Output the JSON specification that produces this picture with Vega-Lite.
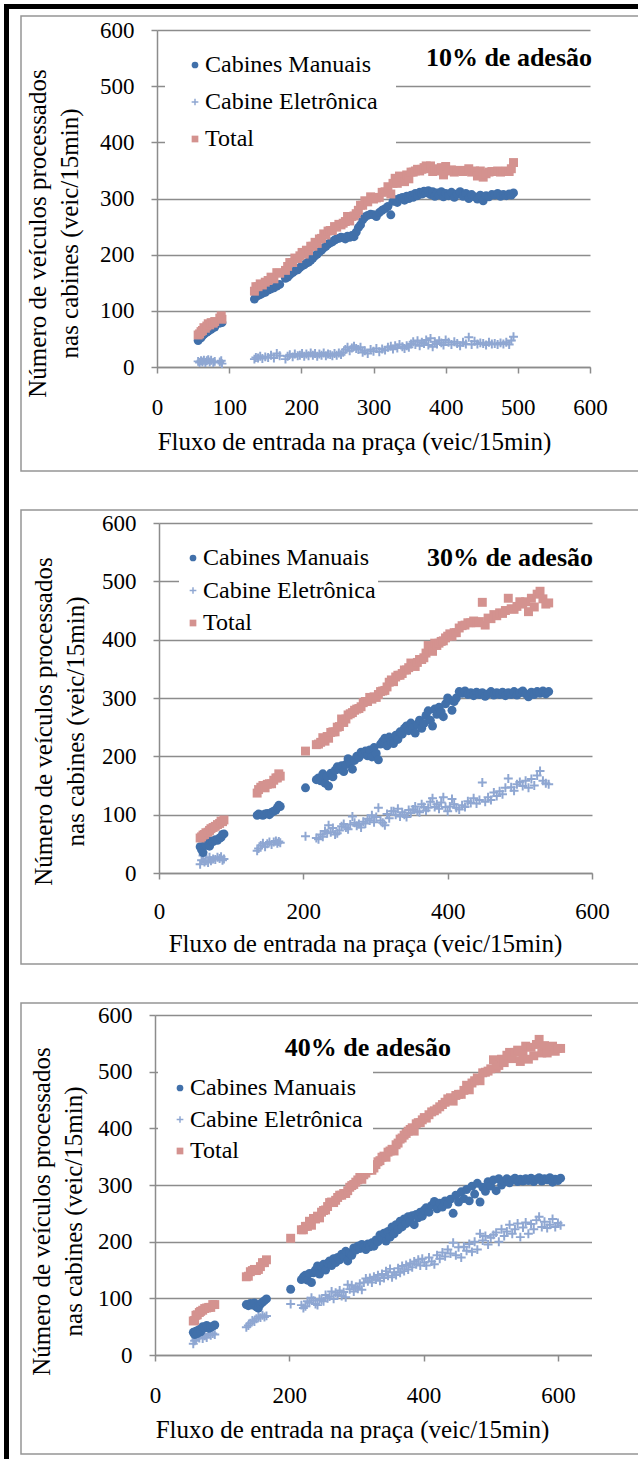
{
  "$schema": "https://vega.github.io/schema/vega-lite/v6.json",
  "padding": {"left": 3, "top": 3, "right": 0, "bottom": 0},
  "background": "#ffffff",
  "config": {
    "font": "Liberation Serif",
    "view": {"stroke": null},
    "axis": {
      "labelFont": "Liberation Serif", "labelFontSize": 23, "labelColor": "#000000",
      "titleFont": "Liberation Serif", "titleFontSize": 25, "titleFontWeight": "normal", "titleColor": "#000000",
      "domainColor": "#8c8c8c", "domainWidth": 1.5, "tickColor": "#8c8c8c", "tickWidth": 1.5, "tickSize": 6,
      "gridColor": "#8c8c8c", "gridWidth": 1.5, "gridOpacity": 1,
      "labelFlush": false, "labelOverlap": false, "labelBound": false
    },
    "axisX": {"grid": false, "labelPadding": 23},
    "axisY": {"grid": true, "labelPadding": 17},
    "legend": {
      "labelFont": "Liberation Serif", "labelFontSize": 24, "labelColor": "#000000", "labelLimit": 400,
      "symbolSize": 45, "symbolStrokeWidth": 0, "labelOffset": -2, "padding": 18,
      "fillColor": "#ffffff"
    }
  },
  "datasets": {
    "vazio": [{}],
    "adesao10": [
      {"fluxo":57,"manuais":47,"eletronica":10,"total":57},{"fluxo":59,"manuais":51,"eletronica":8,"total":59},{"fluxo":61,"manuais":52,"eletronica":11,"total":63},{"fluxo":63,"manuais":56,"eletronica":9,"total":65},{"fluxo":65,"manuais":58,"eletronica":12,"total":70},{"fluxo":67,"manuais":61,"eletronica":8,"total":69},{"fluxo":69,"manuais":62,"eletronica":11,"total":73},{"fluxo":71,"manuais":64,"eletronica":13,"total":77},{"fluxo":73,"manuais":66,"eletronica":9,"total":75},{"fluxo":75,"manuais":67,"eletronica":12,"total":79},{"fluxo":78,"manuais":70,"eletronica":8,"total":78},{"fluxo":80,"manuais":71,"eletronica":10,"total":81},{"fluxo":87,"manuais":78,"eletronica":9,"total":87},{"fluxo":89,"manuais":80,"eletronica":11,"total":91},{"fluxo":90,"manuais":79,"eletronica":6,"total":85},
      {"fluxo":135,"manuais":121,"eletronica":14,"total":135},{"fluxo":137,"manuais":126,"eletronica":17,"total":143},{"fluxo":140,"manuais":127,"eletronica":16,"total":143},{"fluxo":143,"manuais":129,"eletronica":19,"total":148},{"fluxo":146,"manuais":131,"eletronica":15,"total":146},{"fluxo":150,"manuais":133,"eletronica":18,"total":151},{"fluxo":154,"manuais":137,"eletronica":17,"total":154},{"fluxo":158,"manuais":139,"eletronica":21,"total":160},{"fluxo":162,"manuais":141,"eletronica":16,"total":157},{"fluxo":166,"manuais":144,"eletronica":24,"total":168},{"fluxo":170,"manuais":147,"eletronica":20,"total":167},
      {"fluxo":178,"manuais":158,"eletronica":14,"total":172},{"fluxo":181,"manuais":160,"eletronica":19,"total":179},{"fluxo":184,"manuais":164,"eletronica":22,"total":186},{"fluxo":188,"manuais":168,"eletronica":18,"total":186},{"fluxo":191,"manuais":171,"eletronica":23,"total":194},{"fluxo":195,"manuais":173,"eletronica":20,"total":193},{"fluxo":198,"manuais":177,"eletronica":21,"total":198},{"fluxo":201,"manuais":180,"eletronica":24,"total":204},{"fluxo":204,"manuais":182,"eletronica":19,"total":201},{"fluxo":207,"manuais":185,"eletronica":23,"total":208},{"fluxo":210,"manuais":187,"eletronica":20,"total":207},{"fluxo":213,"manuais":190,"eletronica":25,"total":215},{"fluxo":216,"manuais":194,"eletronica":21,"total":215},{"fluxo":219,"manuais":198,"eletronica":24,"total":222},{"fluxo":222,"manuais":201,"eletronica":19,"total":220},{"fluxo":225,"manuais":205,"eletronica":23,"total":228},{"fluxo":228,"manuais":208,"eletronica":21,"total":229},{"fluxo":231,"manuais":212,"eletronica":25,"total":237},{"fluxo":234,"manuais":215,"eletronica":20,"total":235},{"fluxo":237,"manuais":219,"eletronica":23,"total":242},{"fluxo":240,"manuais":221,"eletronica":22,"total":243},{"fluxo":243,"manuais":223,"eletronica":20,"total":243},{"fluxo":246,"manuais":226,"eletronica":24,"total":250},{"fluxo":249,"manuais":228,"eletronica":21,"total":249},{"fluxo":252,"manuais":229,"eletronica":25,"total":254},{"fluxo":255,"manuais":231,"eletronica":22,"total":253},{"fluxo":258,"manuais":230,"eletronica":26,"total":256},{"fluxo":261,"manuais":228,"eletronica":31,"total":259},{"fluxo":264,"manuais":233,"eletronica":35,"total":268},{"fluxo":267,"manuais":231,"eletronica":29,"total":260},{"fluxo":270,"manuais":234,"eletronica":34,"total":268},{"fluxo":273,"manuais":232,"eletronica":37,"total":269},{"fluxo":276,"manuais":240,"eletronica":33,"total":273},{"fluxo":279,"manuais":248,"eletronica":31,"total":279},{"fluxo":282,"manuais":253,"eletronica":35,"total":288},{"fluxo":285,"manuais":262,"eletronica":26,"total":288},{"fluxo":288,"manuais":267,"eletronica":29,"total":296},{"fluxo":292,"manuais":270,"eletronica":24,"total":294},{"fluxo":296,"manuais":272,"eletronica":31,"total":303},{"fluxo":300,"manuais":271,"eletronica":28,"total":299},{"fluxo":304,"manuais":268,"eletronica":33,"total":301},{"fluxo":308,"manuais":275,"eletronica":27,"total":302},{"fluxo":312,"manuais":279,"eletronica":32,"total":311},{"fluxo":316,"manuais":282,"eletronica":30,"total":312},{"fluxo":320,"manuais":286,"eletronica":35,"total":321},{"fluxo":324,"manuais":271,"eletronica":37,"total":308},{"fluxo":327,"manuais":295,"eletronica":32,"total":327},{"fluxo":330,"manuais":298,"eletronica":38,"total":336},{"fluxo":333,"manuais":293,"eletronica":34,"total":327},{"fluxo":336,"manuais":300,"eletronica":40,"total":340},{"fluxo":340,"manuais":302,"eletronica":36,"total":338},{"fluxo":343,"manuais":297,"eletronica":33,"total":330},{"fluxo":346,"manuais":304,"eletronica":38,"total":342},{"fluxo":349,"manuais":300,"eletronica":35,"total":335},{"fluxo":352,"manuais":306,"eletronica":41,"total":347},{"fluxo":355,"manuais":302,"eletronica":45,"total":347},{"fluxo":358,"manuais":309,"eletronica":40,"total":349},{"fluxo":361,"manuais":305,"eletronica":47,"total":352},{"fluxo":364,"manuais":311,"eletronica":38,"total":349},{"fluxo":367,"manuais":308,"eletronica":44,"total":352},{"fluxo":370,"manuais":313,"eletronica":42,"total":355},{"fluxo":373,"manuais":310,"eletronica":48,"total":358},{"fluxo":376,"manuais":314,"eletronica":39,"total":353},{"fluxo":379,"manuais":307,"eletronica":51,"total":358},{"fluxo":382,"manuais":312,"eletronica":36,"total":348},{"fluxo":385,"manuais":304,"eletronica":45,"total":349},{"fluxo":388,"manuais":310,"eletronica":41,"total":351},{"fluxo":391,"manuais":306,"eletronica":47,"total":353},{"fluxo":394,"manuais":312,"eletronica":43,"total":355},{"fluxo":397,"manuais":303,"eletronica":39,"total":342},{"fluxo":400,"manuais":309,"eletronica":48,"total":357},{"fluxo":404,"manuais":305,"eletronica":44,"total":349},{"fluxo":408,"manuais":311,"eletronica":40,"total":351},{"fluxo":412,"manuais":302,"eletronica":45,"total":347},{"fluxo":416,"manuais":308,"eletronica":42,"total":350},{"fluxo":420,"manuais":312,"eletronica":38,"total":350},{"fluxo":424,"manuais":304,"eletronica":44,"total":348},{"fluxo":428,"manuais":309,"eletronica":41,"total":350},{"fluxo":432,"manuais":300,"eletronica":53,"total":353},{"fluxo":436,"manuais":307,"eletronica":40,"total":347},{"fluxo":440,"manuais":303,"eletronica":46,"total":349},{"fluxo":444,"manuais":299,"eletronica":41,"total":340},{"fluxo":448,"manuais":306,"eletronica":43,"total":349},{"fluxo":452,"manuais":296,"eletronica":42,"total":338},{"fluxo":456,"manuais":305,"eletronica":39,"total":344},{"fluxo":460,"manuais":303,"eletronica":44,"total":347},{"fluxo":464,"manuais":307,"eletronica":41,"total":348},{"fluxo":468,"manuais":306,"eletronica":42,"total":348},{"fluxo":472,"manuais":309,"eletronica":40,"total":349},{"fluxo":476,"manuais":304,"eletronica":43,"total":347},{"fluxo":480,"manuais":307,"eletronica":41,"total":348},{"fluxo":484,"manuais":305,"eletronica":44,"total":349},{"fluxo":488,"manuais":308,"eletronica":40,"total":348},{"fluxo":491,"manuais":306,"eletronica":47,"total":353},{"fluxo":494,"manuais":310,"eletronica":54,"total":364}
    ],
    "adesao30": [
      {"fluxo":57,"manuais":45,"eletronica":15,"total":60},{"fluxo":59,"manuais":40,"eletronica":22,"total":62},{"fluxo":61,"manuais":35,"eletronica":30,"total":65},{"fluxo":63,"manuais":47,"eletronica":19,"total":66},{"fluxo":65,"manuais":48,"eletronica":21,"total":69},{"fluxo":68,"manuais":52,"eletronica":18,"total":70},{"fluxo":70,"manuais":46,"eletronica":27,"total":73},{"fluxo":72,"manuais":55,"eletronica":21,"total":76},{"fluxo":75,"manuais":54,"eletronica":24,"total":78},{"fluxo":78,"manuais":57,"eletronica":23,"total":80},{"fluxo":81,"manuais":56,"eletronica":27,"total":83},{"fluxo":84,"manuais":60,"eletronica":25,"total":85},{"fluxo":86,"manuais":61,"eletronica":28,"total":89},{"fluxo":88,"manuais":66,"eletronica":22,"total":88},{"fluxo":90,"manuais":67,"eletronica":24,"total":91},
      {"fluxo":136,"manuais":99,"eletronica":38,"total":137},{"fluxo":138,"manuais":101,"eletronica":42,"total":143},{"fluxo":141,"manuais":100,"eletronica":47,"total":147},{"fluxo":144,"manuais":99,"eletronica":51,"total":150},{"fluxo":147,"manuais":101,"eletronica":45,"total":146},{"fluxo":150,"manuais":102,"eletronica":50,"total":152},{"fluxo":153,"manuais":100,"eletronica":53,"total":153},{"fluxo":156,"manuais":104,"eletronica":49,"total":153},{"fluxo":159,"manuais":106,"eletronica":53,"total":159},{"fluxo":162,"manuais":108,"eletronica":55,"total":163},{"fluxo":164,"manuais":112,"eletronica":51,"total":163},{"fluxo":166,"manuais":116,"eletronica":54,"total":170},{"fluxo":168,"manuais":114,"eletronica":52,"total":166},
      {"fluxo":203,"manuais":146,"eletronica":63,"total":209},{"fluxo":218,"manuais":160,"eletronica":60,"total":220},{"fluxo":221,"manuais":163,"eletronica":58,"total":221},{"fluxo":224,"manuais":158,"eletronica":66,"total":224},{"fluxo":227,"manuais":170,"eletronica":62,"total":232},{"fluxo":230,"manuais":154,"eletronica":72,"total":226},{"fluxo":233,"manuais":166,"eletronica":68,"total":234},{"fluxo":235,"manuais":149,"eletronica":82,"total":231},{"fluxo":238,"manuais":171,"eletronica":70,"total":241},{"fluxo":241,"manuais":165,"eletronica":77,"total":242},{"fluxo":244,"manuais":176,"eletronica":66,"total":242},{"fluxo":247,"manuais":182,"eletronica":68,"total":250},{"fluxo":250,"manuais":178,"eletronica":73,"total":251},{"fluxo":253,"manuais":184,"eletronica":80,"total":264},{"fluxo":256,"manuais":174,"eletronica":84,"total":258},{"fluxo":259,"manuais":186,"eletronica":78,"total":264},{"fluxo":262,"manuais":196,"eletronica":75,"total":271},{"fluxo":265,"manuais":190,"eletronica":83,"total":273},{"fluxo":268,"manuais":178,"eletronica":97,"total":275},{"fluxo":271,"manuais":193,"eletronica":86,"total":279},{"fluxo":274,"manuais":200,"eletronica":81,"total":281},{"fluxo":277,"manuais":198,"eletronica":84,"total":282},{"fluxo":280,"manuais":207,"eletronica":78,"total":285},{"fluxo":283,"manuais":204,"eletronica":88,"total":292},{"fluxo":286,"manuais":209,"eletronica":85,"total":294},{"fluxo":289,"manuais":201,"eletronica":93,"total":294},{"fluxo":292,"manuais":211,"eletronica":90,"total":301},{"fluxo":295,"manuais":199,"eletronica":99,"total":298},{"fluxo":298,"manuais":215,"eletronica":87,"total":302},{"fluxo":301,"manuais":205,"eletronica":96,"total":301},{"fluxo":304,"manuais":194,"eletronica":112,"total":306},{"fluxo":307,"manuais":221,"eletronica":90,"total":311},{"fluxo":310,"manuais":226,"eletronica":86,"total":312},{"fluxo":313,"manuais":231,"eletronica":82,"total":313},{"fluxo":316,"manuais":218,"eletronica":101,"total":319},{"fluxo":319,"manuais":233,"eletronica":94,"total":327},{"fluxo":322,"manuais":225,"eletronica":106,"total":331},{"fluxo":325,"manuais":222,"eletronica":106,"total":328},{"fluxo":328,"manuais":236,"eletronica":100,"total":336},{"fluxo":331,"manuais":229,"eletronica":110,"total":339},{"fluxo":334,"manuais":242,"eletronica":97,"total":339},{"fluxo":337,"manuais":238,"eletronica":104,"total":342},{"fluxo":340,"manuais":248,"eletronica":100,"total":348},{"fluxo":343,"manuais":252,"eletronica":96,"total":348},{"fluxo":346,"manuais":244,"eletronica":108,"total":352},{"fluxo":349,"manuais":257,"eletronica":103,"total":360},{"fluxo":352,"manuais":250,"eletronica":109,"total":359},{"fluxo":355,"manuais":240,"eletronica":114,"total":354},{"fluxo":358,"manuais":255,"eletronica":106,"total":361},{"fluxo":361,"manuais":262,"eletronica":104,"total":366},{"fluxo":364,"manuais":248,"eletronica":118,"total":366},{"fluxo":367,"manuais":256,"eletronica":113,"total":369},{"fluxo":370,"manuais":270,"eletronica":107,"total":377},{"fluxo":373,"manuais":278,"eletronica":112,"total":390},{"fluxo":376,"manuais":262,"eletronica":122,"total":384},{"fluxo":379,"manuais":252,"eletronica":128,"total":380},{"fluxo":382,"manuais":281,"eletronica":113,"total":394},{"fluxo":385,"manuais":272,"eletronica":118,"total":390},{"fluxo":388,"manuais":284,"eletronica":110,"total":394},{"fluxo":391,"manuais":276,"eletronica":121,"total":397},{"fluxo":394,"manuais":268,"eletronica":130,"total":398},{"fluxo":397,"manuais":290,"eletronica":113,"total":403},{"fluxo":400,"manuais":300,"eletronica":106,"total":406},{"fluxo":403,"manuais":296,"eletronica":114,"total":410},{"fluxo":406,"manuais":279,"eletronica":127,"total":406},{"fluxo":409,"manuais":294,"eletronica":118,"total":412},{"fluxo":412,"manuais":300,"eletronica":112,"total":412},{"fluxo":416,"manuais":311,"eletronica":109,"total":420},{"fluxo":420,"manuais":308,"eletronica":116,"total":424},{"fluxo":424,"manuais":312,"eletronica":113,"total":425},{"fluxo":428,"manuais":306,"eletronica":123,"total":429},{"fluxo":432,"manuais":309,"eletronica":120,"total":429},{"fluxo":436,"manuais":304,"eletronica":128,"total":432},{"fluxo":440,"manuais":310,"eletronica":119,"total":429},{"fluxo":444,"manuais":306,"eletronica":125,"total":431},{"fluxo":448,"manuais":309,"eletronica":155,"total":464},{"fluxo":452,"manuais":303,"eletronica":122,"total":425},{"fluxo":456,"manuais":307,"eletronica":130,"total":437},{"fluxo":460,"manuais":311,"eletronica":125,"total":436},{"fluxo":464,"manuais":305,"eletronica":138,"total":443},{"fluxo":468,"manuais":309,"eletronica":132,"total":441},{"fluxo":472,"manuais":306,"eletronica":140,"total":446},{"fluxo":476,"manuais":310,"eletronica":135,"total":445},{"fluxo":480,"manuais":304,"eletronica":146,"total":450},{"fluxo":484,"manuais":309,"eletronica":162,"total":471},{"fluxo":488,"manuais":306,"eletronica":147,"total":453},{"fluxo":492,"manuais":311,"eletronica":141,"total":452},{"fluxo":496,"manuais":305,"eletronica":152,"total":457},{"fluxo":500,"manuais":309,"eletronica":156,"total":465},{"fluxo":504,"manuais":312,"eletronica":149,"total":461},{"fluxo":508,"manuais":307,"eletronica":158,"total":465},{"fluxo":512,"manuais":302,"eletronica":146,"total":448},{"fluxo":516,"manuais":310,"eletronica":161,"total":471},{"fluxo":520,"manuais":306,"eletronica":150,"total":456},{"fluxo":524,"manuais":311,"eletronica":167,"total":478},{"fluxo":528,"manuais":308,"eletronica":175,"total":483},{"fluxo":532,"manuais":312,"eletronica":158,"total":470},{"fluxo":536,"manuais":307,"eletronica":154,"total":461},{"fluxo":540,"manuais":311,"eletronica":152,"total":463}
    ],
    "adesao40": [
      {"fluxo":57,"manuais":40,"eletronica":20,"total":60},{"fluxo":59,"manuais":36,"eletronica":25,"total":61},{"fluxo":61,"manuais":42,"eletronica":28,"total":70},{"fluxo":63,"manuais":38,"eletronica":33,"total":71},{"fluxo":66,"manuais":45,"eletronica":30,"total":75},{"fluxo":68,"manuais":41,"eletronica":36,"total":77},{"fluxo":71,"manuais":50,"eletronica":29,"total":79},{"fluxo":74,"manuais":48,"eletronica":34,"total":82},{"fluxo":77,"manuais":52,"eletronica":31,"total":83},{"fluxo":80,"manuais":47,"eletronica":37,"total":84},{"fluxo":83,"manuais":49,"eletronica":35,"total":84},{"fluxo":86,"manuais":51,"eletronica":38,"total":89},{"fluxo":89,"manuais":53,"eletronica":36,"total":89},
      {"fluxo":136,"manuais":89,"eletronica":49,"total":138},{"fluxo":139,"manuais":87,"eletronica":52,"total":139},{"fluxo":142,"manuais":91,"eletronica":56,"total":147},{"fluxo":145,"manuais":88,"eletronica":61,"total":149},{"fluxo":148,"manuais":92,"eletronica":59,"total":151},{"fluxo":151,"manuais":85,"eletronica":64,"total":149},{"fluxo":154,"manuais":83,"eletronica":68,"total":151},{"fluxo":157,"manuais":90,"eletronica":66,"total":156},{"fluxo":160,"manuais":93,"eletronica":70,"total":163},{"fluxo":163,"manuais":96,"eletronica":67,"total":163},{"fluxo":166,"manuais":99,"eletronica":69,"total":168},
      {"fluxo":202,"manuais":116,"eletronica":90,"total":206},{"fluxo":218,"manuais":133,"eletronica":88,"total":221},{"fluxo":221,"manuais":138,"eletronica":83,"total":221},{"fluxo":224,"manuais":141,"eletronica":86,"total":227},{"fluxo":227,"manuais":132,"eletronica":95,"total":227},{"fluxo":230,"manuais":144,"eletronica":92,"total":236},{"fluxo":233,"manuais":128,"eletronica":101,"total":229},{"fluxo":236,"manuais":145,"eletronica":96,"total":241},{"fluxo":239,"manuais":150,"eletronica":90,"total":240},{"fluxo":242,"manuais":157,"eletronica":88,"total":245},{"fluxo":245,"manuais":143,"eletronica":99,"total":242},{"fluxo":248,"manuais":155,"eletronica":97,"total":252},{"fluxo":251,"manuais":160,"eletronica":95,"total":255},{"fluxo":254,"manuais":150,"eletronica":106,"total":256},{"fluxo":257,"manuais":162,"eletronica":100,"total":262},{"fluxo":260,"manuais":166,"eletronica":103,"total":269},{"fluxo":263,"manuais":158,"eletronica":112,"total":270},{"fluxo":266,"manuais":170,"eletronica":99,"total":269},{"fluxo":269,"manuais":163,"eletronica":110,"total":273},{"fluxo":272,"manuais":172,"eletronica":106,"total":278},{"fluxo":275,"manuais":168,"eletronica":114,"total":282},{"fluxo":278,"manuais":178,"eletronica":104,"total":282},{"fluxo":281,"manuais":174,"eletronica":111,"total":285},{"fluxo":284,"manuais":183,"eletronica":102,"total":285},{"fluxo":287,"manuais":166,"eletronica":124,"total":290},{"fluxo":290,"manuais":180,"eletronica":116,"total":296},{"fluxo":293,"manuais":176,"eletronica":123,"total":299},{"fluxo":296,"manuais":189,"eletronica":112,"total":301},{"fluxo":299,"manuais":185,"eletronica":120,"total":305},{"fluxo":302,"manuais":192,"eletronica":117,"total":309},{"fluxo":305,"manuais":188,"eletronica":126,"total":314},{"fluxo":308,"manuais":195,"eletronica":115,"total":310},{"fluxo":311,"manuais":190,"eletronica":128,"total":318},{"fluxo":314,"manuais":186,"eletronica":135,"total":321},{"fluxo":317,"manuais":196,"eletronica":130,"total":326},{"fluxo":320,"manuais":191,"eletronica":136,"total":327},{"fluxo":323,"manuais":198,"eletronica":128,"total":326},{"fluxo":326,"manuais":192,"eletronica":138,"total":330},{"fluxo":329,"manuais":203,"eletronica":133,"total":336},{"fluxo":332,"manuais":200,"eletronica":141,"total":341},{"fluxo":335,"manuais":212,"eletronica":131,"total":343},{"fluxo":338,"manuais":206,"eletronica":143,"total":349},{"fluxo":341,"manuais":215,"eletronica":136,"total":351},{"fluxo":344,"manuais":201,"eletronica":148,"total":349},{"fluxo":347,"manuais":218,"eletronica":140,"total":358},{"fluxo":350,"manuais":208,"eletronica":152,"total":360},{"fluxo":353,"manuais":226,"eletronica":137,"total":363},{"fluxo":356,"manuais":214,"eletronica":146,"total":360},{"fluxo":359,"manuais":230,"eletronica":141,"total":371},{"fluxo":362,"manuais":221,"eletronica":153,"total":374},{"fluxo":365,"manuais":236,"eletronica":145,"total":381},{"fluxo":368,"manuais":226,"eletronica":157,"total":383},{"fluxo":371,"manuais":240,"eletronica":148,"total":388},{"fluxo":374,"manuais":232,"eletronica":159,"total":391},{"fluxo":377,"manuais":244,"eletronica":151,"total":395},{"fluxo":380,"manuais":236,"eletronica":162,"total":398},{"fluxo":383,"manuais":246,"eletronica":155,"total":401},{"fluxo":386,"manuais":230,"eletronica":165,"total":395},{"fluxo":389,"manuais":248,"eletronica":160,"total":408},{"fluxo":392,"manuais":242,"eletronica":168,"total":410},{"fluxo":395,"manuais":252,"eletronica":158,"total":410},{"fluxo":398,"manuais":245,"eletronica":170,"total":415},{"fluxo":401,"manuais":256,"eletronica":163,"total":419},{"fluxo":404,"manuais":260,"eletronica":158,"total":418},{"fluxo":408,"manuais":252,"eletronica":172,"total":424},{"fluxo":412,"manuais":264,"eletronica":165,"total":429},{"fluxo":416,"manuais":271,"eletronica":160,"total":431},{"fluxo":420,"manuais":258,"eletronica":176,"total":434},{"fluxo":424,"manuais":268,"eletronica":170,"total":438},{"fluxo":428,"manuais":261,"eletronica":181,"total":442},{"fluxo":432,"manuais":272,"eletronica":174,"total":446},{"fluxo":436,"manuais":266,"eletronica":186,"total":452},{"fluxo":440,"manuais":275,"eletronica":179,"total":454},{"fluxo":444,"manuais":250,"eletronica":198,"total":448},{"fluxo":448,"manuais":282,"eletronica":176,"total":458},{"fluxo":452,"manuais":270,"eletronica":190,"total":460},{"fluxo":456,"manuais":288,"eletronica":172,"total":460},{"fluxo":460,"manuais":276,"eletronica":191,"total":467},{"fluxo":464,"manuais":292,"eletronica":184,"total":476},{"fluxo":468,"manuais":272,"eletronica":196,"total":468},{"fluxo":472,"manuais":298,"eletronica":182,"total":480},{"fluxo":476,"manuais":284,"eletronica":200,"total":484},{"fluxo":480,"manuais":303,"eletronica":186,"total":489},{"fluxo":484,"manuais":270,"eletronica":214,"total":484},{"fluxo":488,"manuais":296,"eletronica":202,"total":498},{"fluxo":492,"manuais":289,"eletronica":210,"total":499},{"fluxo":496,"manuais":306,"eletronica":195,"total":501},{"fluxo":500,"manuais":298,"eletronica":207,"total":505},{"fluxo":504,"manuais":309,"eletronica":212,"total":521},{"fluxo":508,"manuais":290,"eletronica":216,"total":506},{"fluxo":512,"manuais":311,"eletronica":200,"total":511},{"fluxo":516,"manuais":300,"eletronica":222,"total":522},{"fluxo":520,"manuais":306,"eletronica":210,"total":516},{"fluxo":524,"manuais":311,"eletronica":218,"total":529},{"fluxo":528,"manuais":304,"eletronica":230,"total":534},{"fluxo":532,"manuais":309,"eletronica":214,"total":523},{"fluxo":536,"manuais":312,"eletronica":222,"total":534},{"fluxo":540,"manuais":306,"eletronica":232,"total":538},{"fluxo":544,"manuais":310,"eletronica":208,"total":518},{"fluxo":548,"manuais":307,"eletronica":225,"total":532},{"fluxo":552,"manuais":311,"eletronica":234,"total":545},{"fluxo":556,"manuais":308,"eletronica":214,"total":522},{"fluxo":560,"manuais":312,"eletronica":231,"total":543},{"fluxo":564,"manuais":306,"eletronica":222,"total":528},{"fluxo":568,"manuais":310,"eletronica":238,"total":548},{"fluxo":572,"manuais":313,"eletronica":244,"total":557},{"fluxo":576,"manuais":307,"eletronica":226,"total":533},{"fluxo":580,"manuais":311,"eletronica":235,"total":546},{"fluxo":584,"manuais":309,"eletronica":224,"total":533},{"fluxo":588,"manuais":313,"eletronica":230,"total":543},{"fluxo":592,"manuais":305,"eletronica":240,"total":545},{"fluxo":596,"manuais":310,"eletronica":226,"total":536},{"fluxo":600,"manuais":308,"eletronica":233,"total":541},{"fluxo":604,"manuais":312,"eletronica":229,"total":541}
    ]
  },
  "spacing": 0,
  "bounds": "flush",
  "resolve": {"scale": {"color": "independent", "shape": "independent"}, "legend": {"color": "independent", "shape": "independent"}},
  "vconcat": [
    {
      "data": {"name": "vazio"},
      "mark": {"type": "point", "opacity": 0},
      "width": 635, "height": 5,
      "view": {"fill": "#000000", "stroke": null}
    },
    {
      "spacing": 12,
      "bounds": "flush",
      "resolve": {"scale": {"color": "independent", "shape": "independent"}, "legend": {"color": "independent", "shape": "independent"}},
      "hconcat": [
        {
          "data": {"name": "vazio"},
          "mark": {"type": "point", "opacity": 0},
          "width": 5, "height": 1451,
          "view": {"fill": "#000000", "stroke": null}
        },
        {
          "spacing": 0,
          "bounds": "flush",
          "resolve": {"scale": {"color": "independent", "shape": "independent"}, "legend": {"color": "independent", "shape": "independent"}},
          "vconcat": [
            {"data": {"name": "vazio"}, "mark": {"type": "point", "opacity": 0}, "width": 1, "height": 7},
            {
              "width": 618, "height": 455,
              "view": {"stroke": "#959595", "strokeWidth": 1.5, "fill": "#ffffff"},
              "data": {"name": "adesao10"},
              "layer": [
                {
                  "transform": [{"fold": ["manuais", "eletronica", "total"], "as": ["serie", "veiculos"]}],
                  "mark": {"type": "point", "filled": true, "size": 80, "opacity": 1},
                  "encoding": {
                    "x": {"field": "fluxo", "type": "quantitative",
                      "scale": {"domain": [0, 600], "range": [136, 569], "nice": false, "zero": false},
                      "axis": {"title": "Fluxo de entrada na praça (veic/15min)", "values": [0, 100, 200, 300, 400, 500, 600],
                        "offset": -104, "titleX": 333, "titleY": 74, "titleBaseline": "middle", "titleAlign": "center"}},
                    "y": {"field": "veiculos", "type": "quantitative",
                      "scale": {"domain": [0, 600], "range": [351, 14], "nice": false},
                      "axis": {"title": ["Número de veículos processados", "nas cabines (veic/15min)"], "values": [0, 100, 200, 300, 400, 500, 600],
                        "offset": -136, "titleX": -120, "titleY": 217, "titleAngle": 270, "titleBaseline": "middle", "titleAlign": "center", "titleLineHeight": 32}},
                    "color": {"field": "serie", "type": "nominal",
                      "scale": {"domain": ["manuais", "eletronica", "total"], "range": ["#4170AA", "#8FA7D2", "#D4928F"]},
                      "legend": {"title": null, "orient": "none", "legendX": 144, "legendY": 19, "rowPadding": 13,
                        "labelExpr": "datum.label == 'manuais' ? 'Cabines Manuais' : datum.label == 'eletronica' ? 'Cabine Eletrônica' : 'Total'"}},
                    "shape": {"field": "serie", "type": "nominal",
                      "scale": {"domain": ["manuais", "eletronica", "total"], "range": ["circle", "M-1,-0.22H-0.22V-1H0.22V-0.22H1V0.22H0.22V1H-0.22V0.22H-1Z", "square"]},
                      "legend": {"title": null, "orient": "none", "legendX": 144, "legendY": 19, "rowPadding": 13,
                        "labelExpr": "datum.label == 'manuais' ? 'Cabines Manuais' : datum.label == 'eletronica' ? 'Cabine Eletrônica' : 'Total'"}},
                    "order": {"field": "serie", "type": "nominal"}
                  }
                },
                {
                  "data": {"values": [{"rotulo": "10% de adesão", "fluxo": 600, "veiculos": 550}]},
                  "mark": {"type": "text", "align": "right", "baseline": "middle", "font": "Liberation Serif", "fontSize": 26, "fontWeight": "bold", "color": "#000000", "dx": 2},
                  "encoding": {
                    "x": {"field": "fluxo", "type": "quantitative"},
                    "y": {"field": "veiculos", "type": "quantitative"},
                    "text": {"field": "rotulo"}
                  }
                }
              ]
            },
            {"data": {"name": "vazio"}, "mark": {"type": "point", "opacity": 0}, "width": 1, "height": 39},
            {
              "width": 618, "height": 454,
              "view": {"stroke": "#959595", "strokeWidth": 1.5, "fill": "#ffffff"},
              "data": {"name": "adesao30"},
              "layer": [
                {
                  "transform": [{"fold": ["manuais", "eletronica", "total"], "as": ["serie", "veiculos"]}],
                  "mark": {"type": "point", "filled": true, "size": 80, "opacity": 1},
                  "encoding": {
                    "x": {"field": "fluxo", "type": "quantitative",
                      "scale": {"domain": [0, 600], "range": [138, 571], "nice": false, "zero": false},
                      "axis": {"title": "Fluxo de entrada na praça (veic/15min)", "values": [0, 200, 400, 600],
                        "offset": -91, "titleX": 344, "titleY": 70, "titleBaseline": "middle", "titleAlign": "center", "labelPadding": 21}},
                    "y": {"field": "veiculos", "type": "quantitative",
                      "scale": {"domain": [0, 600], "range": [363, 13], "nice": false},
                      "axis": {"title": ["Número de veículos processados", "nas cabines (veic/15min)"], "values": [0, 100, 200, 300, 400, 500, 600],
                        "offset": -138, "titleX": -116, "titleY": 211, "titleAngle": 270, "titleBaseline": "middle", "titleAlign": "center", "titleLineHeight": 32}},
                    "color": {"field": "serie", "type": "nominal",
                      "scale": {"domain": ["manuais", "eletronica", "total"], "range": ["#4170AA", "#8FA7D2", "#D4928F"]},
                      "legend": {"title": null, "orient": "none", "legendX": 158, "legendY": 34, "rowPadding": 8.5, "padding": 2,
                        "labelExpr": "datum.label == 'manuais' ? 'Cabines Manuais' : datum.label == 'eletronica' ? 'Cabine Eletrônica' : 'Total'"}},
                    "shape": {"field": "serie", "type": "nominal",
                      "scale": {"domain": ["manuais", "eletronica", "total"], "range": ["circle", "M-1,-0.22H-0.22V-1H0.22V-0.22H1V0.22H0.22V1H-0.22V0.22H-1Z", "square"]},
                      "legend": {"title": null, "orient": "none", "legendX": 158, "legendY": 34, "rowPadding": 8.5, "padding": 2,
                        "labelExpr": "datum.label == 'manuais' ? 'Cabines Manuais' : datum.label == 'eletronica' ? 'Cabine Eletrônica' : 'Total'"}},
                    "order": {"field": "serie", "type": "nominal"}
                  }
                },
                {
                  "data": {"values": [{"rotulo": "30% de adesão", "fluxo": 600, "veiculos": 540}]},
                  "mark": {"type": "text", "align": "right", "baseline": "middle", "font": "Liberation Serif", "fontSize": 26, "fontWeight": "bold", "color": "#000000", "dx": 1},
                  "encoding": {
                    "x": {"field": "fluxo", "type": "quantitative"},
                    "y": {"field": "veiculos", "type": "quantitative"},
                    "text": {"field": "rotulo"}
                  }
                }
              ]
            },
            {"data": {"name": "vazio"}, "mark": {"type": "point", "opacity": 0}, "width": 1, "height": 39},
            {
              "width": 618, "height": 451,
              "view": {"stroke": "#959595", "strokeWidth": 1.5, "fill": "#ffffff"},
              "data": {"name": "adesao40"},
              "layer": [
                {
                  "transform": [{"fold": ["manuais", "eletronica", "total"], "as": ["serie", "veiculos"]}],
                  "mark": {"type": "point", "filled": true, "size": 80, "opacity": 1},
                  "encoding": {
                    "x": {"field": "fluxo", "type": "quantitative",
                      "scale": {"domain": [0, 650], "range": [134, 570.5], "nice": false, "zero": false},
                      "axis": {"title": "Fluxo de entrada na praça (veic/15min)", "values": [0, 200, 400, 600],
                        "offset": -99, "titleX": 331, "titleY": 74, "titleBaseline": "middle", "titleAlign": "center"}},
                    "y": {"field": "veiculos", "type": "quantitative",
                      "scale": {"domain": [0, 600], "range": [352, 12], "nice": false},
                      "axis": {"title": ["Número de veículos processados", "nas cabines (veic/15min)"], "values": [0, 100, 200, 300, 400, 500, 600],
                        "offset": -134, "titleX": -114, "titleY": 208, "titleAngle": 270, "titleBaseline": "middle", "titleAlign": "center", "titleLineHeight": 32}},
                    "color": {"field": "serie", "type": "nominal",
                      "scale": {"domain": ["manuais", "eletronica", "total"], "range": ["#4170AA", "#8FA7D2", "#D4928F"]},
                      "legend": {"title": null, "orient": "none", "legendX": 137, "legendY": 63, "rowPadding": 7.5, "padding": 10,
                        "labelExpr": "datum.label == 'manuais' ? 'Cabines Manuais' : datum.label == 'eletronica' ? 'Cabine Eletrônica' : 'Total'"}},
                    "shape": {"field": "serie", "type": "nominal",
                      "scale": {"domain": ["manuais", "eletronica", "total"], "range": ["circle", "M-1,-0.22H-0.22V-1H0.22V-0.22H1V0.22H0.22V1H-0.22V0.22H-1Z", "square"]},
                      "legend": {"title": null, "orient": "none", "legendX": 137, "legendY": 63, "rowPadding": 7.5, "padding": 10,
                        "labelExpr": "datum.label == 'manuais' ? 'Cabines Manuais' : datum.label == 'eletronica' ? 'Cabine Eletrônica' : 'Total'"}},
                    "order": {"field": "serie", "type": "nominal"}
                  }
                },
                {
                  "data": {"values": [{"rotulo": "40% de adesão", "fluxo": 317, "veiculos": 542}]},
                  "mark": {"type": "text", "align": "center", "baseline": "middle", "font": "Liberation Serif", "fontSize": 26, "fontWeight": "bold", "color": "#000000"},
                  "encoding": {
                    "x": {"field": "fluxo", "type": "quantitative"},
                    "y": {"field": "veiculos", "type": "quantitative"},
                    "text": {"field": "rotulo"}
                  }
                }
              ]
            }
          ]
        }
      ]
    }
  ]
}
